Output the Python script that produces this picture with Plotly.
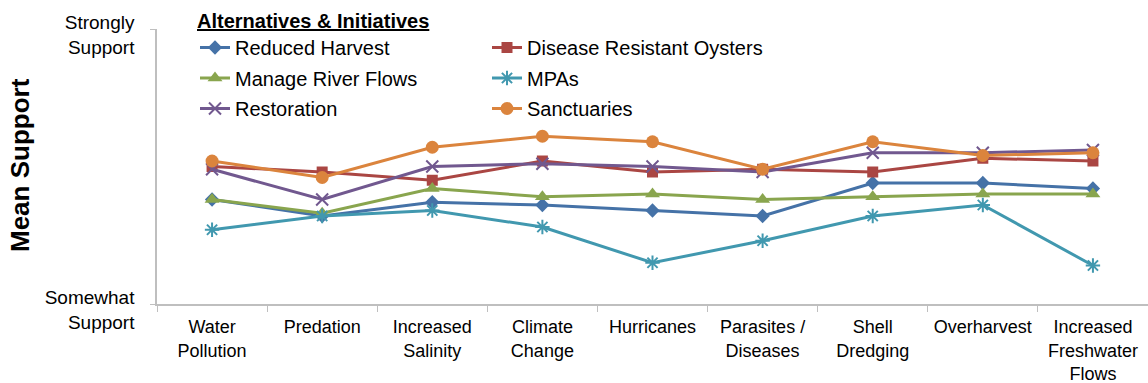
import plotly.graph_objects as go

# Threats along the horizontal axis
categories = [
    "Water<br>Pollution", "Predation", "Increased<br>Salinity", "Climate<br>Change",
    "Hurricanes", "Parasites /<br>Diseases", "Shell<br>Dredging", "Overharvest",
    "Increased<br>Freshwater<br>Flows",
]

# Mean support per alternative (4 = Somewhat Support, 5 = Strongly Support)
reduced_harvest = [4.38, 4.32, 4.37, 4.36, 4.34, 4.32, 4.44, 4.44, 4.42]
disease_resistant = [4.50, 4.48, 4.45, 4.52, 4.48, 4.49, 4.48, 4.53, 4.52]
manage_river_flows = [4.38, 4.33, 4.42, 4.39, 4.40, 4.38, 4.39, 4.40, 4.40]
mpas = [4.27, 4.32, 4.34, 4.28, 4.15, 4.23, 4.32, 4.36, 4.14]
restoration = [4.49, 4.38, 4.50, 4.51, 4.50, 4.48, 4.55, 4.55, 4.56]
sanctuaries = [4.52, 4.46, 4.57, 4.61, 4.59, 4.49, 4.59, 4.54, 4.55]

y_tick_vals = [4, 5]
y_tick_text = ["Somewhat<br>Support", "Strongly<br>Support"]

series = [
    ("Reduced Harvest", reduced_harvest, "#4572A7", "diamond", 11, "legend"),
    ("Disease Resistant Oysters", disease_resistant, "#AA4643", "square", 11, "legend2"),
    ("Manage River Flows", manage_river_flows, "#89A54E", "triangle-up", 13, "legend"),
    ("MPAs", mpas, "#4198AF", "asterisk-open", 12, "legend2"),
    ("Restoration", restoration, "#71588F", "x-thin-open", 12, "legend"),
    ("Sanctuaries", sanctuaries, "#DB843D", "circle", 13, "legend2"),
]

fig = go.Figure()
for name, vals, color, symbol, size, leg in series:
    open_marker = symbol.endswith("open")
    fig.add_trace(go.Scatter(
        x=categories, y=vals, name=name, mode="lines+markers",
        line=dict(color=color, width=3),
        marker=dict(symbol=symbol, size=size, color=color,
                    line=dict(color=color, width=2 if open_marker else 0)),
        legend=leg, legendgroup=name,
    ))

base_font = "Liberation Sans, Arial, sans-serif"
legend_font = dict(family=base_font, size=20, color="#000000")
fig.update_layout(
    width=1148, height=383,
    margin=dict(l=157, r=0, t=29, b=79),
    paper_bgcolor="white", plot_bgcolor="white",
    font=dict(family=base_font, color="#000000"),
    showlegend=True,
    legend=dict(
        x=(195 - 157) / 991, y=1.0 + 27 / 275, xanchor="left", yanchor="top",
        title=dict(text="<b><u>Alternatives & Initiatives</u></b>",
                   font=dict(family=base_font, size=20)),
        font=legend_font, bgcolor="rgba(0,0,0,0)", tracegroupgap=1.5,
    ),
    legend2=dict(
        x=(487 - 157) / 991, y=1.0 + 1 / 275, xanchor="left", yanchor="top",
        font=legend_font, bgcolor="rgba(0,0,0,0)", tracegroupgap=1.5,
    ),
    xaxis=dict(
        type="category", range=[-0.5, 8.5],
        showline=True, linecolor="#BFBFBF", linewidth=1.5,
        ticks="outside", tickson="boundaries", ticklen=6, tickcolor="#BFBFBF",
        tickfont=dict(family=base_font, size=18, color="#000000"),
        ticklabelstandoff=6, showgrid=False, zeroline=False,
    ),
    yaxis=dict(
        range=[4, 5], tickvals=y_tick_vals, ticktext=y_tick_text,
        showline=True, linecolor="#BFBFBF", linewidth=1.5,
        ticks="outside", ticklen=5, tickcolor="#BFBFBF",
        tickfont=dict(family=base_font, size=19, color="#000000"),
        ticklabelstandoff=12, ticklabelshift=6, showgrid=False, zeroline=False,
    ),
    annotations=[dict(
        text="<b>Mean Support</b>", textangle=-90,
        xref="paper", yref="paper", x=(20 - 157) / 991, y=(304 - 165) / 275,
        xanchor="center", yanchor="middle", showarrow=False,
        font=dict(family=base_font, size=26, color="#000000"),
    )],
)

fig.write_html("out.html")
